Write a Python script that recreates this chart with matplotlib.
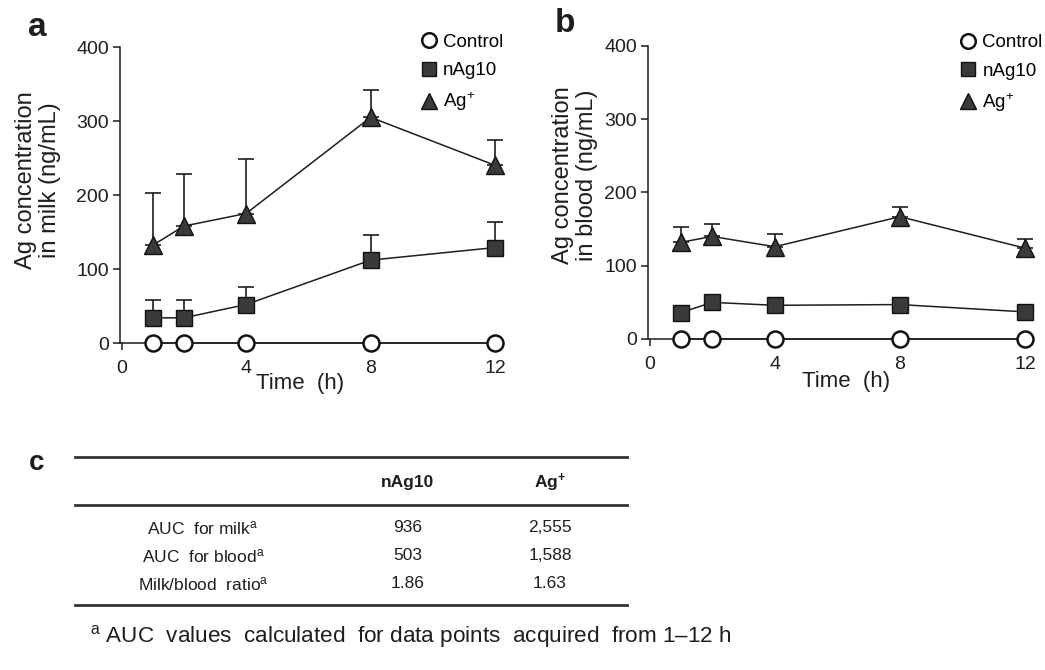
import matplotlib
matplotlib.use('Agg')
import matplotlib.pyplot as plt
from matplotlib.lines import Line2D
import numpy as np

plt.rcParams['font.family'] = ['Liberation Sans', 'DejaVu Sans']
plt.rcParams['mathtext.fontset'] = 'custom'
plt.rcParams['mathtext.rm'] = 'Liberation Sans'
plt.rcParams['mathtext.it'] = 'Liberation Sans'
plt.rcParams['mathtext.bf'] = 'Liberation Sans:bold'

# data
time_h = [1, 2, 4, 8, 12]

milk_control = [0, 0, 0, 0, 0]
milk_nag10 = [34, 34, 52, 112, 129]
milk_nag10_sd = [24, 24, 24, 34, 35]
milk_agion = [132, 158, 175, 305, 240]
milk_agion_sd = [71, 70, 74, 37, 35]

blood_control = [0, 0, 0, 0, 0]
blood_nag10 = [36, 50, 46, 47, 37]
blood_nag10_sd = [4, 4, 4, 4, 4]
blood_agion = [132, 140, 126, 167, 124]
blood_agion_sd = [21, 17, 18, 13, 13]

series_names = ['Control', 'nAg10', 'Ag$^{+}$']

table_cols = ['nAg10', r'Ag$^{\mathbf{+}}$']
table_rows = [r'AUC  for milk$^{\mathrm{a}}$', r'AUC  for blood$^{\mathrm{a}}$',
              r'Milk/blood  ratio$^{\mathrm{a}}$']
table_vals = [['936', '2,555'], ['503', '1,588'], ['1.86', '1.63']]
footnote = r'$^{\mathrm{a}}$ AUC  values  calculated  for data points  acquired  from 1–12 h'

W, H = 1045, 670
ink = '#1e1e1e'
fill = '#3a3a3a'


def fx(px):
    return px / W


def fy(py):
    return 1 - py / H


def drawPanel(ax, control, nag, nag_sd, agion, agion_sd, ylab):
    zeros = np.zeros(len(time_h))
    ax.errorbar(time_h, agion, yerr=[zeros, agion_sd], fmt='none', ecolor=ink,
                elinewidth=1.2, capsize=6, capthick=1.2, zorder=2, clip_on=False)
    ax.errorbar(time_h, nag, yerr=[zeros, nag_sd], fmt='none', ecolor=ink,
                elinewidth=1.2, capsize=6, capthick=1.2, zorder=2, clip_on=False)
    ax.plot(time_h, control, color=ink, lw=1.1, marker='o', ms=11.5, mfc='white',
            mec='#111111', mew=1.8, zorder=4, clip_on=False)
    ax.plot(time_h, nag, color=ink, lw=1.1, marker='s', ms=11.5, mfc=fill,
            mec='#111111', mew=1.0, zorder=4, clip_on=False)
    ax.plot(time_h, agion, color=ink, lw=1.1, marker='^', ms=13, mfc=fill,
            mec='#111111', mew=1.0, zorder=4, clip_on=False)

    ax.set_xlim(-0.05, 12.25)
    ax.set_ylim(0, 400)
    ax.set_xticks([0, 4, 8, 12])
    ax.set_yticks([0, 100, 200, 300, 400])
    ax.spines['right'].set_color('none')
    ax.spines['top'].set_color('none')
    for s in ['left', 'bottom']:
        ax.spines[s].set_linewidth(1.1)
        ax.spines[s].set_color(ink)
    ax.tick_params(direction='out', length=5, width=1.1, colors=ink,
                   labelsize=14, pad=3)
    ax.tick_params(axis='x', pad=7)
    ax.set_ylabel(ylab, fontsize=17, linespacing=1.12, color=ink)
    ax.set_xlabel('Time  (h)', fontsize=16, color=ink)

    handles = [
        Line2D([], [], ls='none', marker='o', ms=10.5, mfc='white', mec='#111111', mew=1.8),
        Line2D([], [], ls='none', marker='s', ms=10.5, mfc=fill, mec='#111111'),
        Line2D([], [], ls='none', marker='^', ms=11.5, mfc=fill, mec='#111111'),
    ]
    return handles


fig = plt.figure(figsize=(10.45, 6.7), dpi=100)

ax_a = fig.add_axes([fx(120), fy(343), (503 - 120) / W, (343 - 47) / H])
h = drawPanel(ax_a, milk_control, milk_nag10, milk_nag10_sd, milk_agion, milk_agion_sd,
              'Ag concentration\nin milk (ng/mL)')
ax_a.yaxis.set_label_coords(-0.155, 0.55)
ax_a.xaxis.set_label_coords(0.47, -0.1)
ax_a.legend(h, series_names, loc='upper right', bbox_to_anchor=(1.0, 1.045),
            frameon=False, fontsize=13.5, borderpad=0, borderaxespad=0,
            handlelength=0.9, handletextpad=0.3, labelspacing=0.6)

ax_b = fig.add_axes([fx(648), fy(339), (1033 - 648) / W, (339 - 46) / H])
h = drawPanel(ax_b, blood_control, blood_nag10, blood_nag10_sd, blood_agion, blood_agion_sd,
              'Ag concentration\nin blood (ng/mL)')
ax_b.yaxis.set_label_coords(-0.13, 0.56)
ax_b.xaxis.set_label_coords(0.515, -0.11)
ax_b.legend(h, series_names, loc='upper right', bbox_to_anchor=(1.025, 1.04),
            frameon=False, fontsize=13.5, borderpad=0, borderaxespad=0,
            handlelength=0.9, handletextpad=0.3, labelspacing=0.6)

# panel letters
fig.text(fx(37), fy(27), 'a', fontsize=24, weight='bold', ha='center', va='center', color=ink)
fig.text(fx(565), fy(24), 'b', fontsize=24, weight='bold', ha='center', va='center', color=ink)
fig.text(fx(37), fy(463), 'c', fontsize=20, weight='bold', ha='center', va='center', color=ink)

# table c
for yline in [457, 505, 605]:
    fig.add_artist(Line2D([fx(75), fx(627)], [fy(yline), fy(yline)], color='#333333', lw=2.0))

col_x = [408, 550]
row_y = [528, 556, 584]
for cx, name in zip(col_x, table_cols):
    fig.text(fx(cx), fy(483), name, fontsize=12.5, weight='bold', ha='center', va='center', color=ink)
for ry, lab, vals in zip(row_y, table_rows, table_vals):
    fig.text(fx(203), fy(ry), lab, fontsize=12.5, ha='center', va='center', color=ink)
    for cx, v in zip(col_x, vals):
        fig.text(fx(cx), fy(ry), v, fontsize=12.5, ha='center', va='center', color=ink)

fig.text(fx(90), fy(637), footnote, fontsize=16.2, ha='left', va='center', color=ink)

fig.savefig('out.png', dpi=100)
